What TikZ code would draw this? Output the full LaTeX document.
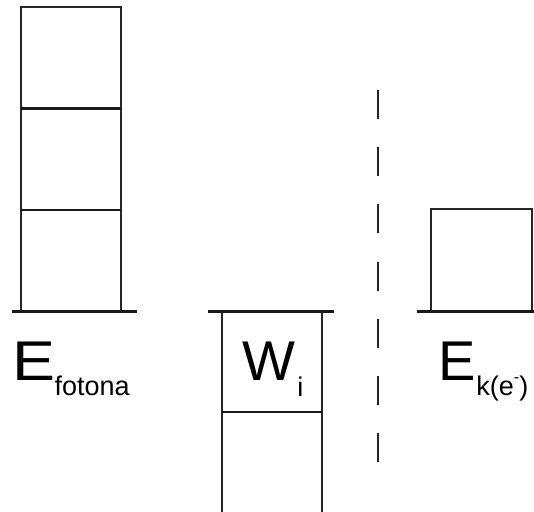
\documentclass[tikz,border=0pt]{standalone}
\usepackage{fontspec}
\setmainfont{Liberation Sans}
\usetikzlibrary{positioning}

\tikzset{
  kvant/.style={draw=black!85, line width=1.5pt, minimum width=100pt, minimum height=101.3pt, inner sep=0pt, outer sep=0pt},
  tanka/.style={draw=black!85, line width=1.5pt},
  pregrada/.style={draw=black!90, line width=2.2pt},
  podloga/.style={draw=black!90, line width=3pt},
  veliko/.style={font=\fontsize{56}{56}\selectfont, inner sep=0pt, anchor=base west},
  malo/.style={font=\fontsize{27}{27}\selectfont, inner sep=0pt, anchor=base west},
}

\begin{document}
\begin{tikzpicture}[x=1pt,y=-1pt]
\useasboundingbox (0,0) rectangle (534,511);

% Energija fotona
\node[kvant, anchor=south west] (f1) at (21,311) {};
\node[kvant, above=0pt of f1] (f2) {};
\node[kvant, above=0pt of f2] (f3) {};
\draw[pregrada] (f1.north west) -- (f1.north east);
\draw[pregrada] (f2.north west) -- (f2.north east);
\draw[podloga] ([xshift=-9pt]f1.south west) -- ([xshift=16pt]f1.south east);

% Izlazni rad
\node[kvant, anchor=north west] (w) at (222,311) {};
\draw[tanka] (w.south west) -- ++(0,100);
\draw[tanka] (w.south east) -- ++(0,100);
\draw[pregrada] (w.south west) -- (w.south east);
\draw[podloga] ([xshift=-14pt]w.north west) -- ([xshift=12pt]w.north east);

% Granica
\draw[tanka, dash pattern=on 29pt off 28.2pt] (378,90) -- (378,470);

% Kineticka energija
\node[kvant, anchor=south west, minimum width=101pt, minimum height=102pt] (k) at (431,311) {};
\draw[podloga] ([xshift=-14pt]k.south west) -- ([xshift=6pt]k.south east);

% Oznake
\node[veliko] (ef) at (12,380) {\scalebox{1.15}[1]{E}};
\node[malo, xshift=-1pt, yshift=-15pt] (efs) at (ef.base east) {fotona};
\node[veliko] (wi) at (242,380) {W};
\node[malo, xshift=2pt, yshift=-16pt] (wis) at (wi.base east) {i};
\node[veliko] (ek) at (438.5,380) {E};
\node[malo, yshift=-15pt] (eks) at (ek.base east) {k(e\raisebox{0.45em}{\fontsize{16}{16}\selectfont -})};
\end{tikzpicture}
\end{document}
